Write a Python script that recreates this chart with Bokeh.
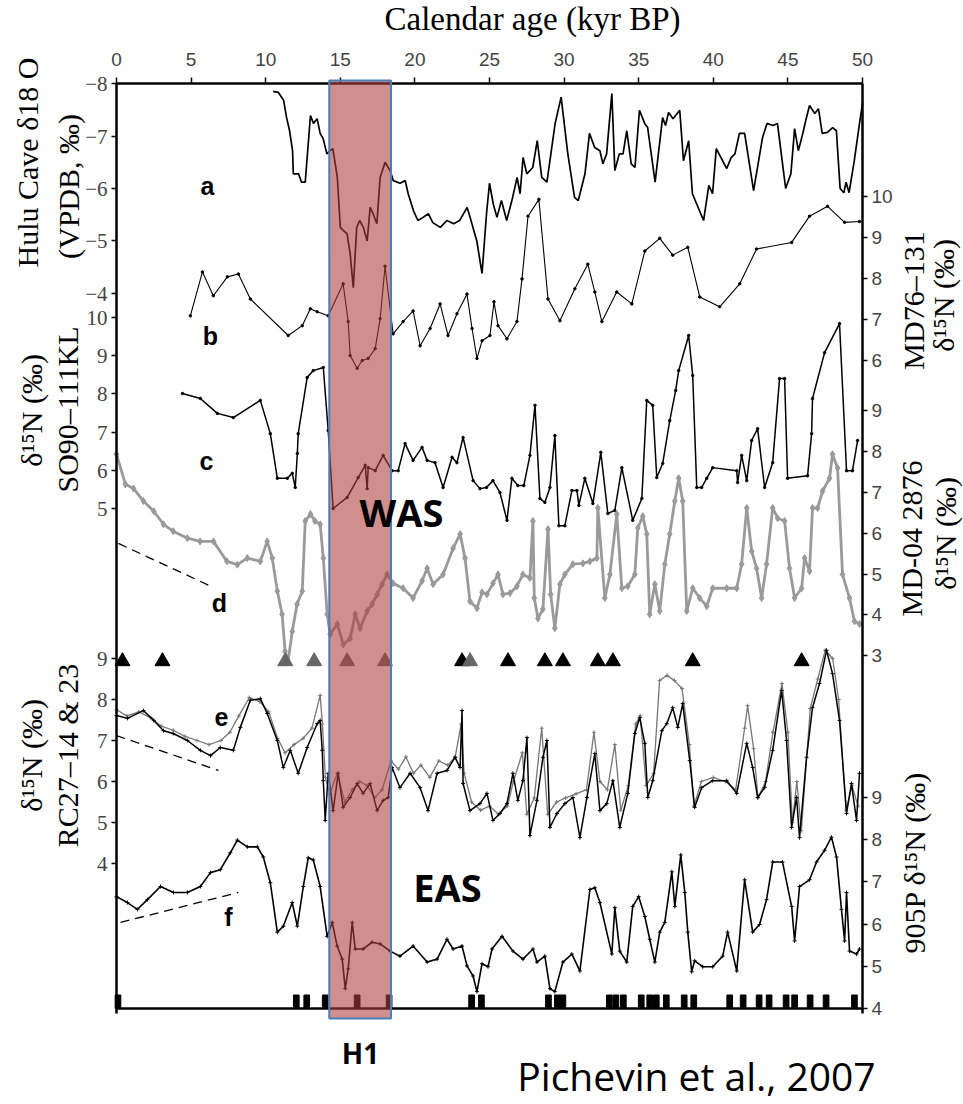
import math
from bokeh.plotting import figure
from bokeh.models import Range1d, LinearAxis, FixedTicker, Label, BoxAnnotation
from bokeh.embed import file_html
from bokeh.resources import INLINE

# ---------------- data (kyr BP, per-mil) ----------------
a_x = [10.5,10.85,11.2,11.4,11.6,11.8,11.85,12.2,12.4,12.65,13.0,13.2,13.45,13.65,13.85,14.1,14.3,14.5,14.8,15.0,15.2,15.45,15.66,15.87,16.1,16.3,16.55,16.8,17.0,17.2,17.45,17.67,18.0,18.34,18.55,19.0,19.35,19.55,19.9,20.2,20.55,20.9,21.2,21.7,22.15,22.6,23.0,23.5,23.7,24.15,24.5,24.8,25.0,25.25,25.5,25.8,26.15,26.5,26.85,27.05,27.25,27.5,27.9,28.2,28.5,28.85,29.4,29.8,30.25,30.7,30.95,31.4,31.7,32.05,32.4,32.6,32.85,33.2,33.4,33.7,33.95,34.2,34.5,34.75,35.05,35.4,35.6,36.1,36.6,36.8,37.0,37.3,37.75,38.0,38.35,38.6,39.35,39.7,39.95,40.2,40.9,41.2,41.45,41.75,42.1,42.7,43.3,43.6,44.0,44.3,44.85,45.2,45.45,45.7,46.0,46.2,46.45,46.8,47.05,47.3,47.65,48.0,48.25,48.5,48.75,48.9,49.1,49.45,49.8,50.0]
a_y = [-7.85,-7.83,-7.68,-7.35,-7.1,-6.72,-6.28,-6.28,-6.12,-6.12,-7.39,-7.24,-7.33,-7.05,-6.95,-6.66,-6.72,-6.76,-6.21,-5.26,-5.2,-5.14,-4.76,-4.11,-5.26,-5.39,-5.26,-5.0,-5.64,-5.52,-5.33,-6.21,-6.5,-6.34,-6.15,-6.1,-6.15,-5.9,-5.58,-5.39,-5.45,-5.52,-5.35,-5.26,-5.39,-5.33,-5.39,-5.64,-5.45,-5.0,-4.38,-5.52,-6.1,-5.71,-5.45,-5.77,-5.39,-5.77,-6.21,-5.9,-6.59,-6.28,-6.4,-6.91,-6.21,-6.12,-7.24,-7.74,-6.66,-5.83,-5.77,-6.28,-7.05,-6.78,-6.72,-6.47,-6.66,-7.81,-6.34,-6.66,-6.66,-7.1,-6.47,-6.4,-7.49,-7.24,-7.16,-6.12,-7.35,-7.2,-7.45,-7.33,-7.49,-6.53,-6.91,-5.9,-5.39,-6.06,-5.9,-6.76,-6.38,-6.59,-6.66,-7.05,-7.05,-5.96,-6.97,-7.24,-7.2,-7.24,-6.0,-6.28,-7.14,-6.72,-7.05,-7.3,-7.58,-7.43,-7.52,-7.05,-7.07,-7.16,-7.1,-6.0,-5.92,-6.12,-5.92,-6.53,-7.24,-7.62]

b_x = [4.95,5.76,6.49,7.43,8.17,8.97,11.51,12.45,12.99,13.45,14.19,15.19,15.53,15.66,16.13,16.47,16.87,17.34,17.67,18.0,18.54,19.21,19.88,20.35,21.02,21.69,22.22,22.82,23.49,23.83,24.16,24.5,25.03,25.3,25.57,26.17,26.84,27.18,27.58,28.31,28.92,29.72,30.72,31.59,32.06,32.53,33.53,34.54,35.41,36.41,37.28,38.29,39.09,40.43,41.77,42.9,45.25,46.45,47.66,48.8,49.8]
b_y = [7.09,8.16,7.58,8.04,8.11,7.50,6.61,6.85,7.26,7.19,7.09,7.87,6.95,6.12,5.81,6.0,6.05,6.29,7.02,8.3,6.65,6.95,7.21,6.36,6.78,7.38,6.61,7.14,7.62,6.78,6.05,6.48,6.61,7.43,6.85,6.53,6.95,7.99,9.52,9.93,7.5,6.97,7.75,8.35,7.67,6.95,7.67,7.38,8.67,8.98,8.57,8.76,7.55,7.31,7.87,8.72,8.88,9.52,9.76,9.37,9.39]

c_x = [4.42,5.62,6.76,7.83,9.64,10.31,10.78,11.45,11.78,11.98,12.12,12.18,12.78,13.19,13.86,14.19,14.52,15.46,16.2,16.67,16.8,16.87,17.34,17.87,18.47,18.88,19.34,19.88,20.48,20.82,21.35,21.89,22.49,22.82,23.23,23.9,24.36,24.8,25.23,25.7,26.17,26.5,26.9,27.3,27.71,28.05,28.38,28.71,29.05,29.38,29.65,30.05,30.52,30.86,30.99,31.39,31.93,32.46,32.93,33.4,33.87,34.6,35.21,35.54,35.94,36.21,36.61,37.08,37.48,37.68,38.35,38.62,38.89,39.22,39.56,39.96,41.57,41.63,41.9,42.24,42.57,42.97,43.44,43.98,44.44,44.78,44.98,46.32,46.59,46.65,47.46,48.46,48.93,49.33,49.67]
c_y = [8.01,7.88,7.49,7.38,7.83,6.96,5.79,5.79,5.92,5.55,6.44,6.96,8.43,8.61,8.69,7.04,5.0,5.29,5.81,6.13,5.52,6.07,5.99,6.39,5.99,5.99,6.7,6.26,6.6,6.26,6.2,5.55,6.34,6.2,6.86,5.73,5.52,5.55,5.73,5.42,4.69,5.79,5.6,5.6,6.39,7.7,5.26,5.16,5.55,6.91,4.55,4.55,5.47,5.47,5.08,5.79,5.13,6.47,4.87,4.95,6.07,4.69,5.26,7.83,7.7,5.81,6.18,7.3,8.09,8.61,9.53,8.48,5.55,5.55,5.79,6.07,5.99,5.68,6.39,5.73,6.78,7.09,5.55,6.2,8.4,8.4,5.79,5.86,6.96,7.88,9.08,9.84,5.99,5.99,6.78]

d_x = [0.0,0.6,1.14,1.8,2.5,3.15,3.8,4.75,5.6,6.5,7.4,8.1,8.77,9.64,10.1,10.44,10.78,11.1,11.3,11.5,11.78,12.1,12.45,12.65,13.0,13.3,13.65,13.86,14.12,14.32,14.8,15.2,15.66,16.0,16.33,16.8,17.13,17.47,17.8,18.14,18.54,19.21,19.88,20.48,20.82,21.22,21.89,22.56,23.03,23.36,23.69,24.16,24.5,24.83,25.23,25.57,25.9,26.37,26.84,27.24,27.71,27.91,28.0,28.25,28.58,28.92,29.1,29.38,29.72,30.05,30.59,31.26,31.73,32.2,32.26,32.73,33.07,33.53,33.87,34.27,34.74,34.94,35.27,35.54,35.74,36.08,36.41,36.75,37.08,37.42,37.68,37.95,38.22,38.62,39.09,39.56,39.96,40.9,41.57,41.9,42.24,42.57,42.9,43.24,43.57,43.98,44.31,44.78,45.11,45.45,45.92,46.12,46.45,46.65,46.99,47.32,47.79,47.99,48.33,48.66,49.13,49.46,49.8]
d_y = [7.94,7.2,7.1,6.79,6.54,6.22,6.05,5.88,5.8,5.8,5.31,5.23,5.39,5.31,5.8,5.39,4.58,4.01,3.1,2.86,3.59,4.26,4.58,6.3,6.47,6.3,6.22,5.39,4.01,3.52,3.77,3.27,3.42,4.01,3.67,4.09,4.26,4.5,4.75,4.99,4.77,4.65,4.41,4.83,5.14,4.75,4.99,5.63,5.98,5.39,4.33,4.16,4.55,4.5,4.77,4.99,4.5,4.53,4.7,4.99,4.9,6.3,4.41,3.91,4.14,6.1,4.5,3.67,4.75,4.99,5.24,5.26,5.31,5.39,6.62,4.41,4.99,6.47,4.65,4.7,4.99,6.13,6.42,5.98,4.01,4.75,4.09,5.24,5.98,6.79,7.35,6.79,4.09,4.65,4.41,4.21,4.65,4.65,4.65,5.24,6.62,5.56,5.14,4.41,5.24,6.62,6.37,6.3,5.14,4.41,4.65,5.39,5.07,6.62,6.62,7.03,7.35,7.94,7.6,4.99,4.41,3.84,3.77]

e_x = [0,0.73,1.8,2.5,3.15,3.8,4.75,5.62,6.3,6.96,7.83,8.3,8.97,9.64,10.1,10.78,11.18,11.65,12.18,12.78,13.45,13.65,13.79,13.86,13.99,14.19,14.52,14.86,15.19,15.66,16.13,16.53,17.0,17.47,17.87,18.21,18.47,19.0,19.68,20.35,20.88,21.49,22.15,22.69,23.03,23.16,23.23,23.69,24.36,24.83,25.23,25.7,26.17,26.57,26.9,27.24,27.51,27.71,28.18,28.58,28.85,29.05,29.52,30.05,30.59,31.06,31.53,32.06,32.4,32.86,33.27,33.73,34.27,34.74,35.07,35.41,35.61,35.94,36.55,36.88,37.28,37.62,37.95,38.42,38.75,39.22,39.96,40.9,41.57,42.24,42.64,42.97,43.44,43.98,44.58,44.91,45.25,45.58,45.78,46.25,46.65,47.12,47.59,47.99,48.46,48.93,49.26,49.6,49.8]
e_y = [7.61,7.54,7.73,7.49,7.24,7.17,7.0,6.76,6.63,6.83,6.76,7.32,7.98,8.02,7.66,7.0,6.34,6.76,6.2,6.83,7.41,7.49,6.76,6.02,5.05,6.2,5.29,6.2,5.37,5.61,5.95,5.71,5.95,5.29,5.54,5.61,6.34,5.85,6.2,5.85,5.29,6.2,6.27,6.59,6.34,7.73,5.95,5.29,5.46,5.71,5.05,5.22,5.46,6.2,5.54,6.02,7.07,4.68,5.54,6.59,7.0,4.88,5.22,5.46,5.61,4.63,5.61,6.68,5.29,5.46,6.02,4.88,5.71,7.17,7.56,6.93,5.61,6.02,7.24,7.41,7.8,7.32,7.9,6.51,5.37,5.85,6.02,6.02,5.71,6.93,6.34,5.61,5.85,6.76,8.22,7.0,4.88,5.61,4.63,6.59,7.8,8.39,9.2,8.63,7.49,5.22,5.95,5.05,6.2]

eg_x = [0.0,0.7,1.5,2.3,3.0,3.8,4.6,5.4,6.2,7.0,7.6,8.2,8.9,9.6,10.2,10.8,11.3,11.9,12.5,13.1,13.65,13.8,14.0,14.3,14.8,15.3,15.8,16.3,16.8,17.3,17.8,18.4,18.9,19.4,19.9,20.4,21.0,21.6,22.2,22.7,23.1,23.3,23.8,24.4,25.0,25.6,26.2,26.6,27.2,27.5,28.0,28.5,28.9,29.5,30.1,30.8,31.5,32.0,32.4,32.9,33.4,33.8,34.3,34.8,35.1,35.5,36.0,36.4,36.9,37.4,37.9,38.4,38.7,39.2,40.0,40.8,41.5,42.1,42.3,42.7,43.0,43.5,44.0,44.6,45.0,45.3,45.6,45.9,46.5,47.0,47.5,48.0,48.4,48.9,49.3,49.7]
eg_y = [7.75,7.6,7.7,7.55,7.35,7.25,7.1,7.0,6.9,7.0,7.2,7.6,8.05,7.95,7.7,7.05,6.7,6.9,7.05,7.3,8.1,7.4,6.1,5.7,6.2,5.5,5.8,6.0,5.9,5.6,5.8,6.5,6.3,6.6,6.2,6.4,6.1,6.5,6.4,6.6,7.4,6.2,5.5,5.3,5.4,5.2,5.4,6.0,6.7,5.2,5.6,7.3,5.2,5.5,5.6,5.7,5.8,7.2,6.0,5.8,6.9,5.3,5.9,7.4,7.6,5.9,6.2,8.46,8.59,8.46,8.27,6.9,5.4,6.0,6.1,6.0,5.8,7.3,7.85,6.8,5.6,6.0,7.2,8.39,7.2,5.0,6.0,4.8,7.78,8.5,9.2,9.0,8.0,5.3,5.9,5.4]

f_x = [0,0.73,1.4,2.07,2.95,3.82,4.75,5.62,6.3,6.96,7.63,8.1,8.77,9.44,9.84,10.31,10.78,11.18,11.78,12.12,12.52,12.85,13.19,13.65,14.12,14.46,14.79,15.13,15.33,15.53,15.8,16.0,16.53,17.13,17.67,18.34,19.0,19.88,20.82,21.49,22.15,22.56,23.16,23.49,23.9,24.16,24.5,24.9,25.17,25.84,26.57,27.24,27.91,28.18,28.71,29.05,29.38,29.92,30.52,31.06,31.73,32.06,32.4,33.2,33.4,33.73,34.2,34.6,35.0,35.41,35.74,36.08,36.41,36.75,37.22,37.42,37.82,38.09,38.29,38.55,38.75,39.29,39.96,40.63,40.96,41.57,42.1,42.64,43.1,43.57,43.98,44.64,45.25,45.45,45.78,46.45,46.92,47.46,47.92,48.26,48.59,48.8,48.93,49.13,49.6,49.8]
f_y = [6.65,6.51,6.35,6.58,6.89,6.75,6.75,6.89,7.22,7.29,7.69,7.99,7.83,7.83,7.59,6.98,5.81,5.95,6.51,5.95,6.89,7.57,7.52,6.89,5.71,6.04,5.48,5.17,4.47,4.94,6.04,5.41,5.41,5.57,5.53,5.36,5.24,5.48,5.1,5.17,5.64,5.41,5.48,5.01,4.77,4.4,5.06,4.99,5.41,5.71,5.36,5.17,5.41,5.1,5.24,4.47,4.4,5.1,5.29,4.89,6.82,6.86,6.51,5.29,6.39,5.36,5.1,6.42,6.65,6.18,5.64,5.1,5.81,6.04,7.24,6.42,7.64,6.75,5.81,4.87,5.13,4.99,4.99,5.24,5.81,4.89,7.05,5.81,5.99,6.58,7.47,7.47,6.42,5.6,6.89,7.05,7.47,7.75,8.06,7.59,6.35,5.6,6.75,5.36,5.29,5.41]

# dashed trend lines
d_trend_x = [0.13, 6.5];  d_trend_y = [5.75, 4.67]
e_trend_x = [0.0, 6.83];  e_trend_y = [7.12, 6.27]
f_trend_x = [0.27, 8.17]; f_trend_y = [6.04, 6.75]

# event triangles and dated levels
tri_black_x = [0.4, 3.08, 23.16, 26.24, 28.71, 29.92, 32.26, 33.27, 38.62, 45.92]
tri_gray_x = [11.31, 13.25, 15.46, 18.0, 23.7]
dates_x = [0.1,12.05,12.75,13.99,16.13,18.27,23.8,24.46,28.95,29.55,29.92,33.03,33.47,33.97,35.17,35.74,36.18,36.85,38.05,38.69,41.1,42.0,43.07,43.74,44.88,45.45,46.49,47.56,49.46]

h1_start, h1_end = 14.26, 18.4

x_ticks = [0, 5, 10, 15, 20, 25, 30, 35, 40, 45, 50]
a_ticks = [-8, -7, -6, -5, -4]
b_ticks = [10, 9, 8, 7, 6]
c_ticks = [10, 9, 8, 7, 6, 5]
d_ticks = [9, 8, 7, 6, 5, 4, 3]
e_ticks = [9, 8, 7, 6, 5, 4]
f_ticks = [9, 8, 7, 6, 5, 4]

# ---------------- layout (frame = whole canvas, y in pixels) ----------------
W, H = 963, 1104
AL, AR, AT, AB = 116, 862, 83, 1008   # axis box edges (px)

def X(px):
    return (px - AL) * 50.0 / (AR - AL)

def lin(v1, p1, v2, p2):
    k = (v2 - v1) / (p2 - p1)
    return (lambda q: v1 + (q - p1) * k), (lambda v: p1 + (v - v1) / k)

maps = {
    'a': lin(-8, 83, -4, 293),
    'b': lin(10, 196, 6, 360),
    'c': lin(10, 317, 5, 508),
    'd': lin(7, 492, 3, 655),
    'e': lin(9, 658, 4, 863),
    'f': lin(9, 797, 4, 1008),
}

p = figure(width=W, height=H, x_range=Range1d(X(0), X(W)), y_range=Range1d(H, 0),
           x_axis_location=None, y_axis_location=None,
           toolbar_location=None, output_backend="svg",
           min_border=0, min_border_left=0, min_border_right=0,
           min_border_top=0, min_border_bottom=0)
p.grid.visible = False
p.outline_line_color = None
p.background_fill_color = "white"
p.border_fill_color = "white"
p.extra_y_ranges = {k: Range1d(start=f(H), end=f(0)) for k, (f, g) in maps.items()}

# top axis
xa = LinearAxis(fixed_location=AT, bounds=(0, 50), ticker=FixedTicker(ticks=x_ticks))
xa.major_tick_out = 6
xa.major_tick_in = 0
xa.minor_tick_line_color = None
xa.axis_line_width = 2.5
xa.major_tick_line_width = 1.5
xa.major_label_text_font = "Liberation Sans"
xa.major_label_text_font_size = "19px"
xa.major_label_standoff = 12
p.add_layout(xa, "above")

# bottom frame line
xb = LinearAxis(fixed_location=AB, bounds=(0, 50), ticker=FixedTicker(ticks=[]))
xb.axis_line_width = 2.5
xb.major_tick_line_color = None
xb.minor_tick_line_color = None
xb.major_label_text_font_size = "0px"
p.add_layout(xb, "below")

def side_axis(groups, font, size, loc):
    ticks, over = [], {}
    for key, vals in groups:
        g = maps[key][1]
        for v in vals:
            t = int(round(g(v)))
            ticks.append(t)
            over[t] = str(v).replace("-", "\u2212")
    ax = LinearAxis(ticker=FixedTicker(ticks=ticks), major_label_overrides=over,
                    fixed_location=loc)
    ax.bounds = (AT, 1013)
    ax.axis_line_width = 2.5
    ax.major_tick_out = 5
    ax.major_tick_in = 0
    ax.major_tick_line_width = 1.5
    ax.minor_tick_line_color = None
    ax.major_label_text_font = font
    ax.major_label_text_font_size = size
    ax.major_label_standoff = 4
    return ax

p.add_layout(side_axis([('a', a_ticks), ('c', c_ticks), ('e', e_ticks)], "Liberation Serif", "21px", 0), "left")
p.add_layout(side_axis([('b', b_ticks), ('d', d_ticks), ('f', f_ticks)], "Liberation Sans", "19px", 50), "right")

# ---------------- series ----------------
p.line(a_x, a_y, y_range_name='a', line_color="black", line_width=1.7)

p.line(b_x, b_y, y_range_name='b', line_color="black", line_width=1.1)
p.scatter(b_x, b_y, y_range_name='b', size=2.5, color="black")

p.line(c_x, c_y, y_range_name='c', line_color="black", line_width=1.5)
p.scatter(c_x, c_y, y_range_name='c', size=2.5, color="black")

p.line(d_x, d_y, y_range_name='d', line_color="#9a9a9a", line_width=2.8)
p.scatter(d_x, d_y, y_range_name='d', marker="diamond", size=7, color="#9a9a9a")
p.line(d_trend_x, d_trend_y, y_range_name='d', line_color="black", line_width=1.3, line_dash="9 6")

p.line(eg_x, eg_y, y_range_name='e', line_color="#777777", line_width=1.3)
p.scatter(eg_x, eg_y, y_range_name='e', marker="cross", size=4, color="#777777")
p.line(e_x, e_y, y_range_name='e', line_color="black", line_width=1.5)
p.scatter(e_x, e_y, y_range_name='e', marker="cross", size=4, color="black")
p.line(e_trend_x, e_trend_y, y_range_name='e', line_color="black", line_width=1.3, line_dash="9 6")

p.line(f_x, f_y, y_range_name='f', line_color="black", line_width=1.6)
p.scatter(f_x, f_y, y_range_name='f', marker="cross", size=4, color="black")
p.line(f_trend_x, f_trend_y, y_range_name='f', line_color="black", line_width=1.3, line_dash="9 6")

p.scatter(tri_black_x, [8.93] * len(tri_black_x), y_range_name='e', marker="triangle", size=15, color="black")
p.scatter(tri_gray_x, [8.93] * len(tri_gray_x), y_range_name='e', marker="triangle", size=15, color="#666666")

p.vbar(x=dates_x, width=0.38, bottom=4.0, top=4.32, y_range_name='f', color="black")

# H1 band
p.add_layout(BoxAnnotation(left=h1_start, right=h1_end, top=80, bottom=1018,
                           fill_color="#aa3e3a", fill_alpha=0.58,
                           line_color="#4a7ebb", line_alpha=1.0, line_width=2))

# ---------------- texts ----------------
def lab(txt, px, py, font, size, style="normal", angle=0.0, color="black"):
    p.add_layout(Label(x=X(px), y=py, text=txt, text_font=font, text_font_size=size,
                       text_font_style=style, angle=angle, text_color=color,
                       text_align="center", text_baseline="middle"))

lab("Calendar age (kyr BP)", 532, 18, "Liberation Serif", "33px")
V = math.pi / 2
lab("Hulu Cave \u03b418 O", 27, 162, "Liberation Serif", "30px", angle=V)
lab("(VPDB, \u2030)", 68, 186, "Liberation Serif", "30px", angle=V)
lab("\u03b4\u00b9\u2075N (\u2030)", 31, 410, "Liberation Serif", "30px", angle=V)
lab("SO90\u2013111KL", 67, 409, "Liberation Serif", "30px", angle=V)
lab("\u03b4\u00b9\u2075N (\u2030)", 31, 755, "Liberation Serif", "30px", angle=V)
lab("RC27\u201314 & 23", 67, 755, "Liberation Serif", "30px", angle=V)
lab("MD76\u2013131", 913, 300, "Liberation Serif", "30px", angle=V)
lab("\u03b4\u00b9\u2075N (\u2030)", 943, 295, "Liberation Serif", "30px", angle=V)
lab("MD-04 2876", 911, 538, "Liberation Serif", "30px", angle=V)
lab("\u03b4\u00b9\u2075N (\u2030)", 945, 533, "Liberation Serif", "30px", angle=V)
lab("905P \u03b4\u00b9\u2075N (\u2030)", 914, 862, "Liberation Serif", "30px", angle=V)

for t, px, py in [("a", 207, 185), ("b", 210, 335), ("c", 206, 460),
                  ("d", 219, 602), ("e", 221, 716), ("f", 228, 916)]:
    lab(t, px, py, "Liberation Sans", "25px", style="bold")

lab("WAS", 401, 511, "Open Sans", "38px", style="bold")
lab("EAS", 447, 886, "Open Sans", "38px", style="bold")
lab("H1", 360, 1052, "Open Sans", "28px", style="bold")
lab("Pichevin et al., 2007", 696, 1075, "Open Sans", "39px")

open("out.html", "w").write(file_html(p, INLINE))
